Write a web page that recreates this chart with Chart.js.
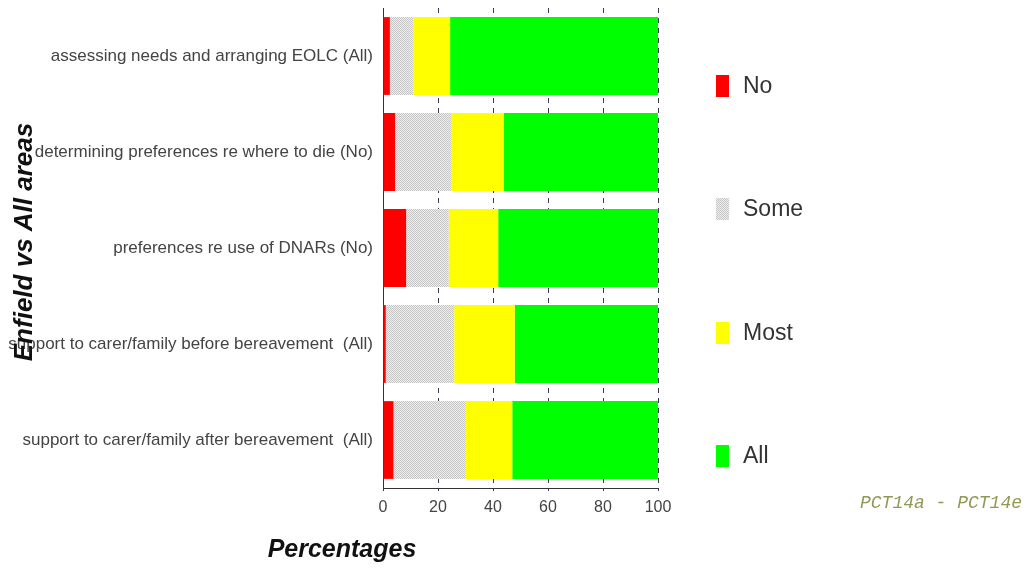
<!DOCTYPE html>
<html>
<head>
    <title>Enfield vs All areas</title>
    <script src="https://cdn.jsdelivr.net/npm/chart.js@4/dist/chart.umd.min.js"></script>
    <style>
        body { margin: 0; background: #fff; }
        .chart-container { position: relative; width: 1030px; height: 568px; }
    </style>
</head>
<body>
    <div class="chart-container">
        <canvas id="eolcChart"></canvas>
    </div>

    <script>
        const categories = [
            'assessing needs and arranging EOLC (All)',
            'determining preferences re where to die (No)',
            'preferences re use of DNARs (No)',
            'support to carer/family before bereavement  (All)',
            'support to carer/family after bereavement  (All)'
        ];
        const noValues   = [2.5, 4.4, 8.4, 1.0, 3.8];
        const someValues = [8.5, 20.6, 15.5, 24.9, 26.3];
        const mostValues = [13.4, 19.0, 18.0, 22.0, 16.9];
        const allValues  = [75.6, 56.0, 58.1, 52.1, 53.0];
        const xTicks = [0, 20, 40, 60, 80, 100];

        // dotted light grey fill for "Some"
        function makeDither() {
            const c = document.createElement('canvas');
            c.width = 2; c.height = 2;
            const g = c.getContext('2d');
            g.fillStyle = '#ececec'; g.fillRect(0, 0, 2, 2);
            g.fillStyle = '#c8c8c8'; g.fillRect(0, 0, 1, 1); g.fillRect(1, 1, 1, 1);
            return g.createPattern(c, 'repeat');
        }
        const somePattern = makeDither();

        // legend on the right, spaced out like the original
        const sideLegend = {
            id: 'sideLegend',
            afterDraw(chart) {
                const ctx = chart.ctx;
                const ys = [86, 209, 333, 456];
                ctx.save();
                ctx.font = '23px "Liberation Sans", Arial, sans-serif';
                ctx.textBaseline = 'middle';
                chart.data.datasets.forEach((ds, i) => {
                    ctx.fillStyle = ds.backgroundColor;
                    ctx.fillRect(716, ys[i] - 11, 13, 22);
                    ctx.fillStyle = '#333';
                    ctx.fillText(ds.label, 743, ys[i] + 1);
                });
                ctx.restore();
            }
        };

        // axis titles and footnote
        const extraText = {
            id: 'extraText',
            afterDraw(chart) {
                const ctx = chart.ctx;
                ctx.save();
                ctx.fillStyle = '#111';
                ctx.font = 'italic bold 25px "Liberation Sans", Arial, sans-serif';
                ctx.textAlign = 'center';
                ctx.textBaseline = 'middle';
                ctx.fillText('Percentages', 342, 550);
                ctx.font = 'italic bold 26px "Liberation Sans", Arial, sans-serif';
                ctx.translate(25, 242);
                ctx.rotate(-Math.PI / 2);
                ctx.fillText('Enfield vs All areas', 0, 0);
                ctx.restore();

                ctx.save();
                ctx.fillStyle = '#8f9a55';
                ctx.font = 'italic 18px "Liberation Mono", "DejaVu Sans Mono", monospace';
                ctx.textAlign = 'right';
                ctx.textBaseline = 'middle';
                ctx.fillText('PCT14a - PCT14e', 1022, 503);
                ctx.restore();
            }
        };

        const ctx = document.getElementById('eolcChart').getContext('2d');
        new Chart(ctx, {
            type: 'bar',
            data: {
                labels: categories,
                datasets: [
                    { label: 'No', data: noValues, backgroundColor: '#ff0000' },
                    { label: 'Some', data: someValues, backgroundColor: somePattern },
                    { label: 'Most', data: mostValues, backgroundColor: '#ffff00' },
                    { label: 'All', data: allValues, backgroundColor: '#00ff00' }
                ]
            },
            options: {
                indexAxis: 'y',
                responsive: true,
                maintainAspectRatio: false,
                animation: false,
                datasets: {
                    bar: { categoryPercentage: 1, barPercentage: 0.81, borderWidth: 0 }
                },
                layout: { padding: { left: 0, right: 372, top: 8, bottom: 0 } },
                scales: {
                    x: {
                        stacked: true,
                        min: 0,
                        max: 100,
                        afterBuildTicks: scale => { scale.ticks = xTicks.map(v => ({ value: v })); },
                        afterFit: scale => { scale.height = 80; },
                        grid: {
                            color: '#3a3a55',
                            tickColor: '#3a3a55',
                            tickLength: 3,
                            tickBorderDash: [],
                            lineWidth: 1
                        },
                        border: { display: true, color: '#333', dash: [5, 5] },
                        ticks: {
                            color: '#444',
                            padding: 7,
                            font: { family: '"Liberation Sans", Arial, sans-serif', size: 16 }
                        }
                    },
                    y: {
                        stacked: true,
                        afterFit: scale => {
                            scale.width = 383;
                            scale.paddingTop = 0;
                            scale.paddingBottom = 0;
                        },
                        grid: { display: false, drawTicks: false },
                        border: { display: true, color: '#333' },
                        ticks: {
                            color: '#444',
                            padding: 10,
                            font: { family: '"Liberation Sans", Arial, sans-serif', size: 17 }
                        }
                    }
                },
                plugins: {
                    legend: { display: false },
                    tooltip: { enabled: false }
                }
            },
            plugins: [sideLegend, extraText]
        });
    </script>
</body>
</html>
